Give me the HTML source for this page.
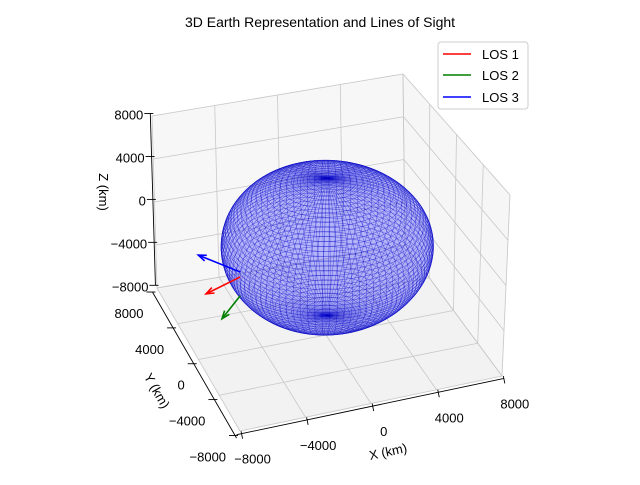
<!DOCTYPE html>
<html><head><meta charset="utf-8"><style>
body{margin:0;background:#fff}
svg text{font-family:"Liberation Sans","DejaVu Sans",sans-serif;fill:#000}
</style></head><body>
<svg id="chart" width="640" height="480" viewBox="0 0 640 480" xmlns="http://www.w3.org/2000/svg">
<rect width="640" height="480" fill="#fff"/>
<text x="320" y="27" font-size="14" text-anchor="middle">3D Earth Representation and Lines of Sight</text>
<g id="panes"></g>
<g id="grid"></g>
<g id="axes"></g>
<g id="earth"></g>
<g id="los"></g>
<g>
<rect x="438" y="42" width="90" height="67" rx="3" fill="#fff" fill-opacity="0.8" stroke="#ccc"/>
<line x1="443" y1="54" x2="471" y2="54" stroke="red" stroke-width="1.5"/>
<text x="482" y="59" font-size="13">LOS 1</text>
<line x1="443" y1="75" x2="471" y2="75" stroke="green" stroke-width="1.5"/>
<text x="482" y="80" font-size="13">LOS 2</text>
<line x1="443" y1="97" x2="471" y2="97" stroke="blue" stroke-width="1.5"/>
<text x="482" y="102" font-size="13">LOS 3</text>
</g>
</svg>
<script>
const xTicks=[-8000,-4000,0,4000,8000];
const yTicks=[-8000,-4000,0,4000,8000];
const zTicks=[-8000,-4000,0,4000,8000];
const xTickLabels=["\u22128000","\u22124000","0","4000","8000"];
const yTickLabels=["\u22128000","\u22124000","0","4000","8000"];
const zTickLabels=["\u22128000","\u22124000","0","4000","8000"];
const earthRadius=[6371];
const losNames=["LOS 1","LOS 2","LOS 3"];
const losColors=["red","green","blue"];
const losOriginX=[-4960,-4960,-4960];
const losOriginY=[1200,1200,1200];
const losOriginZ=[-2300,-4000,-1856];
const losDirX=[-2510,-1830,-1750];
const losDirY=[-1090,-2020,2560];
const losDirZ=[0,0,0];

const NS="http://www.w3.org/2000/svg";
const corner={
 "-1,-1,-1":[240,431],"1,-1,-1":[502,376],"-1,1,-1":[157,288],"1,1,-1":[405,245],
 "-1,-1,1":[243,249],"1,-1,1":[510,195],"-1,1,1":[152,116],"1,1,1":[403,74]};
const lim=8000;
function P(x,y,z){
 const u=(x/lim+1)/2,v=(y/lim+1)/2,w=(z/lim+1)/2;
 let sx=0,sy=0;
 for(const a of [-1,1])for(const b of [-1,1])for(const c of [-1,1]){
  const f=(a>0?u:1-u)*(b>0?v:1-v)*(c>0?w:1-w);
  const p=corner[a+","+b+","+c];sx+=f*p[0];sy+=f*p[1];}
 return [sx,sy];
}
function el(tag,attrs,parent){const e=document.createElementNS(NS,tag);for(const k in attrs)e.setAttribute(k,attrs[k]);parent.appendChild(e);return e;}
function poly(pts){return pts.map(p=>p[0].toFixed(1)+","+p[1].toFixed(1)).join(" ");}
const panes=document.getElementById('panes'),grid=document.getElementById('grid'),axes=document.getElementById('axes');
const L=lim;
let pn=el('polygon',{points:poly([P(-L,L,-L),P(L,L,-L),P(L,L,L),P(-L,L,L)]),fill:"#f2f2f2","fill-opacity":"0.6",stroke:"#f2f2f2"},panes);

pn=el('polygon',{points:poly([P(L,L,-L),P(L,-L,-L),P(L,-L,L),P(L,L,L)]),fill:"#f0f0f0","fill-opacity":"0.6",stroke:"#f0f0f0"},panes);

pn=el('polygon',{points:poly([P(-L,-L,-L),P(L,-L,-L),P(L,L,-L),P(-L,L,-L)]),fill:"#f2f2f2",stroke:"#f2f2f2"},panes);

function gl(a,b){const q1=P(...a),q2=P(...b);const l=el('line',{x1:q1[0],y1:q1[1],x2:q2[0],y2:q2[1],stroke:"#c8c8c8","stroke-width":"0.8"},grid);
 }
xTicks.forEach(t=>{gl([t,L,-L],[t,L,L]);gl([t,-L,-L],[t,L,-L]);});
yTicks.forEach(t=>{gl([L,t,-L],[L,t,L]);gl([-L,t,-L],[L,t,-L]);});
zTicks.forEach(t=>{gl([-L,L,t],[L,L,t]);gl([L,L,t],[L,-L,t]);});
function axLine(a,b,name){const q1=P(...a),q2=P(...b);const l=el('line',{x1:q1[0],y1:q1[1],x2:q2[0],y2:q2[1],stroke:"#000","stroke-width":"0.9"},axes);
 }
const off=300;
axLine([-L-off,-L-off,-L],[L,-L-off,-L],'x-axis-line');
axLine([-L-off,L,-L-off],[-L-off,-L-off,-L-off],'y-axis-line');
axLine([-L,L+off,-L],[-L,L+off,L],'z-axis-line');
function tick(p,dx,dy){const l=el('line',{x1:p[0]-dx*0.5,y1:p[1]-dy*0.5,x2:p[0]+dx,y2:p[1]+dy,stroke:"#000","stroke-width":"0.9"},axes);
 }
function label(p,txt,anchor,name){const t=el('text',{x:p[0],y:p[1],"font-size":"13","text-anchor":anchor},axes);t.textContent=txt;
 }
xTicks.forEach((t,i)=>{const p=P(t,-L-off,-L);tick(p,1,5);label([p[0]+11,p[1]+30],xTickLabels[i],"middle",'x-tick-label');});
yTicks.forEach((t,i)=>{const p=P(-L-off,t,-L-off);tick(p,-6,0);label([p[0]-9,p[1]+26],yTickLabels[i],"end",'y-tick-label');});
zTicks.forEach((t,i)=>{const p=P(-L,L+off,t);tick(p,-6,0);label([p[0]-7,p[1]+6],zTickLabels[i],"end",'z-tick-label');});
let t=el('text',{x:0,y:0,"font-size":"13","text-anchor":"middle",transform:"translate(389,456) rotate(-12)"},axes);t.textContent="X (km)";

t=el('text',{x:0,y:0,"font-size":"13","text-anchor":"middle",transform:"translate(153,393) rotate(60)"},axes);t.textContent="Y (km)";

t=el('text',{x:0,y:0,"font-size":"13","text-anchor":"middle",transform:"translate(99,192) rotate(90)"},axes);t.textContent="Z (km)";

const earth=document.getElementById('earth');const R=earthRadius[0]*0.975;
const NU=90,NV=56;
function sp(i,j){const u=2*Math.PI*i/NU,v=Math.PI*j/NV;return P(R*Math.cos(u)*Math.sin(v),R*Math.sin(u)*Math.sin(v),R*Math.cos(v));}
for(let i=0;i<NU;i++)for(let j=0;j<NV;j++){
 const q=el('polygon',{points:poly([sp(i,j),sp(i+1,j),sp(i+1,j+1),sp(i,j+1)]),fill:"#4040ff","fill-opacity":"0.2",stroke:"#0000c0","stroke-width":"0.3","stroke-opacity":"0.55"},earth);
 }
const los=document.getElementById('los');
losNames.forEach((n,i)=>{
 const a=P(losOriginX[i],losOriginY[i],losOriginZ[i]);
 const b=P(losOriginX[i]+losDirX[i],losOriginY[i]+losDirY[i],losOriginZ[i]+losDirZ[i]);
 const g=el('g',{},los);
 el('line',{x1:a[0],y1:a[1],x2:b[0],y2:b[1],stroke:losColors[i],"stroke-width":"1.6"},g);
 const dx=b[0]-a[0],dy=b[1]-a[1],len=Math.hypot(dx,dy),ux=dx/len,uy=dy/len,h=8,w=3;
 el('polyline',{points:poly([[b[0]-ux*h-uy*w,b[1]-uy*h+ux*w],[b[0],b[1]],[b[0]-ux*h+uy*w,b[1]-uy*h-ux*w]]),fill:"none",stroke:losColors[i],"stroke-width":"1.6"},g);
});
</script>
</body></html>
